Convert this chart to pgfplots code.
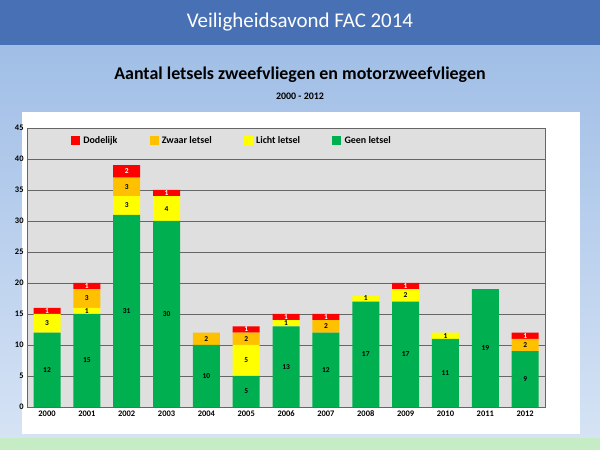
\documentclass[border=0pt]{standalone}
\usepackage{pgfplots}
\pgfplotsset{compat=1.18}
\usepackage{fontspec}
\setmainfont{Carlito}
\definecolor{hdr}{RGB}{72,112,180}
\definecolor{bgl}{RGB}{215,228,245}
\definecolor{bgd}{RGB}{160,190,230}
\definecolor{gn}{RGB}{0,176,80}
\definecolor{yl}{RGB}{255,255,0}
\definecolor{org}{RGB}{255,192,0}
\definecolor{rd}{RGB}{255,0,0}
\begin{document}
\begin{tikzpicture}[x=1bp,y=1bp]
\shade[top color=bgd,bottom color=bgl] (0,0) rectangle (600,405);
\fill[hdr] (0,405) rectangle (600,450);
\fill[gray!50!green!30] (0,0) rectangle (600,12);
\node[white,font=\fontsize{21}{23}\selectfont] at (300,428) {Veiligheidsavond FAC 2014};
\node[font=\bfseries\fontsize{18}{20}\selectfont] at (300,375) {Aantal letsels zweefvliegen en motorzweefvliegen};
\node[font=\bfseries\fontsize{10}{12}\selectfont] at (300,354) {2000 - 2012};
\fill[white] (22,16) rectangle (580,338);
\begin{axis}[at={(47bp,43bp)},anchor=origin,scale only axis,width=518bp,height=279bp,
 ybar stacked, bar width=27bp, ymin=0,ymax=45, ytick={0,5,...,45},
 xmin=-0.5,xmax=12.5, xtick={0,...,12},
 xticklabels={2000,2001,2002,2003,2004,2005,2006,2007,2008,2009,2010,2011,2012},
 tick label style={font=\bfseries\fontsize{8.5}{9}\selectfont},
 x tick label style={text depth=0pt, text height=6pt},
 /pgf/number format/assume math mode=true,
 axis background/.style={fill=gray!25},
 ymajorgrids, grid style={black!60}, axis line style={black!60},
 major tick length=0pt, xtick style={draw=none},
 nodes near coords={\pgfmathfloattofixed{\pgfplotspointmeta}\ifdim\pgfmathresult pt>0pt \pgfmathprintnumber{\pgfplotspointmeta}\fi},
 nodes near coords style={font=\bfseries\fontsize{7.5}{8}\selectfont, anchor=center},
 ]
\addplot[fill=gn,draw=none] coordinates {(0,12)(1,15)(2,31)(3,30)(4,10)(5,5)(6,13)(7,12)(8,17)(9,17)(10,11)(11,19)(12,9)};
\addplot[fill=yl,draw=none] coordinates {(0,3)(1,1)(2,3)(3,4)(4,0)(5,5)(6,1)(7,0)(8,1)(9,2)(10,1)(11,0)(12,0)};
\addplot[fill=org,draw=none] coordinates {(0,0)(1,3)(2,3)(3,0)(4,2)(5,2)(6,0)(7,2)(8,0)(9,0)(10,0)(11,0)(12,2)};
\addplot[fill=rd,draw=none,nodes near coords style={white}] coordinates {(0,1)(1,1)(2,2)(3,1)(4,0)(5,1)(6,1)(7,1)(8,0)(9,1)(10,0)(11,0)(12,1)};
\end{axis}
\begin{axis}[at={(47bp,43bp)},anchor=origin,scale only axis,width=518bp,height=279bp,
 hide axis, xmin=0,xmax=1,ymin=0,ymax=1,
 legend style={at={(0.04,0.985)},anchor=north west,draw=none,fill=none,
   font=\bfseries\fontsize{10}{11}\selectfont,legend columns=4,
   /tikz/every odd column/.append style={column sep=2bp},
   /tikz/every even column/.append style={column sep=30bp}},
 legend cell align=left,
 legend image code/.code={\fill[#1] (0,-3.5bp) rectangle (8bp,4bp);}]
\addlegendimage{rd}\addlegendentry{Dodelijk}
\addlegendimage{org}\addlegendentry{Zwaar letsel}
\addlegendimage{yl}\addlegendentry{Licht letsel}
\addlegendimage{gn}\addlegendentry{Geen letsel}
\end{axis}
\end{tikzpicture}
\end{document}
